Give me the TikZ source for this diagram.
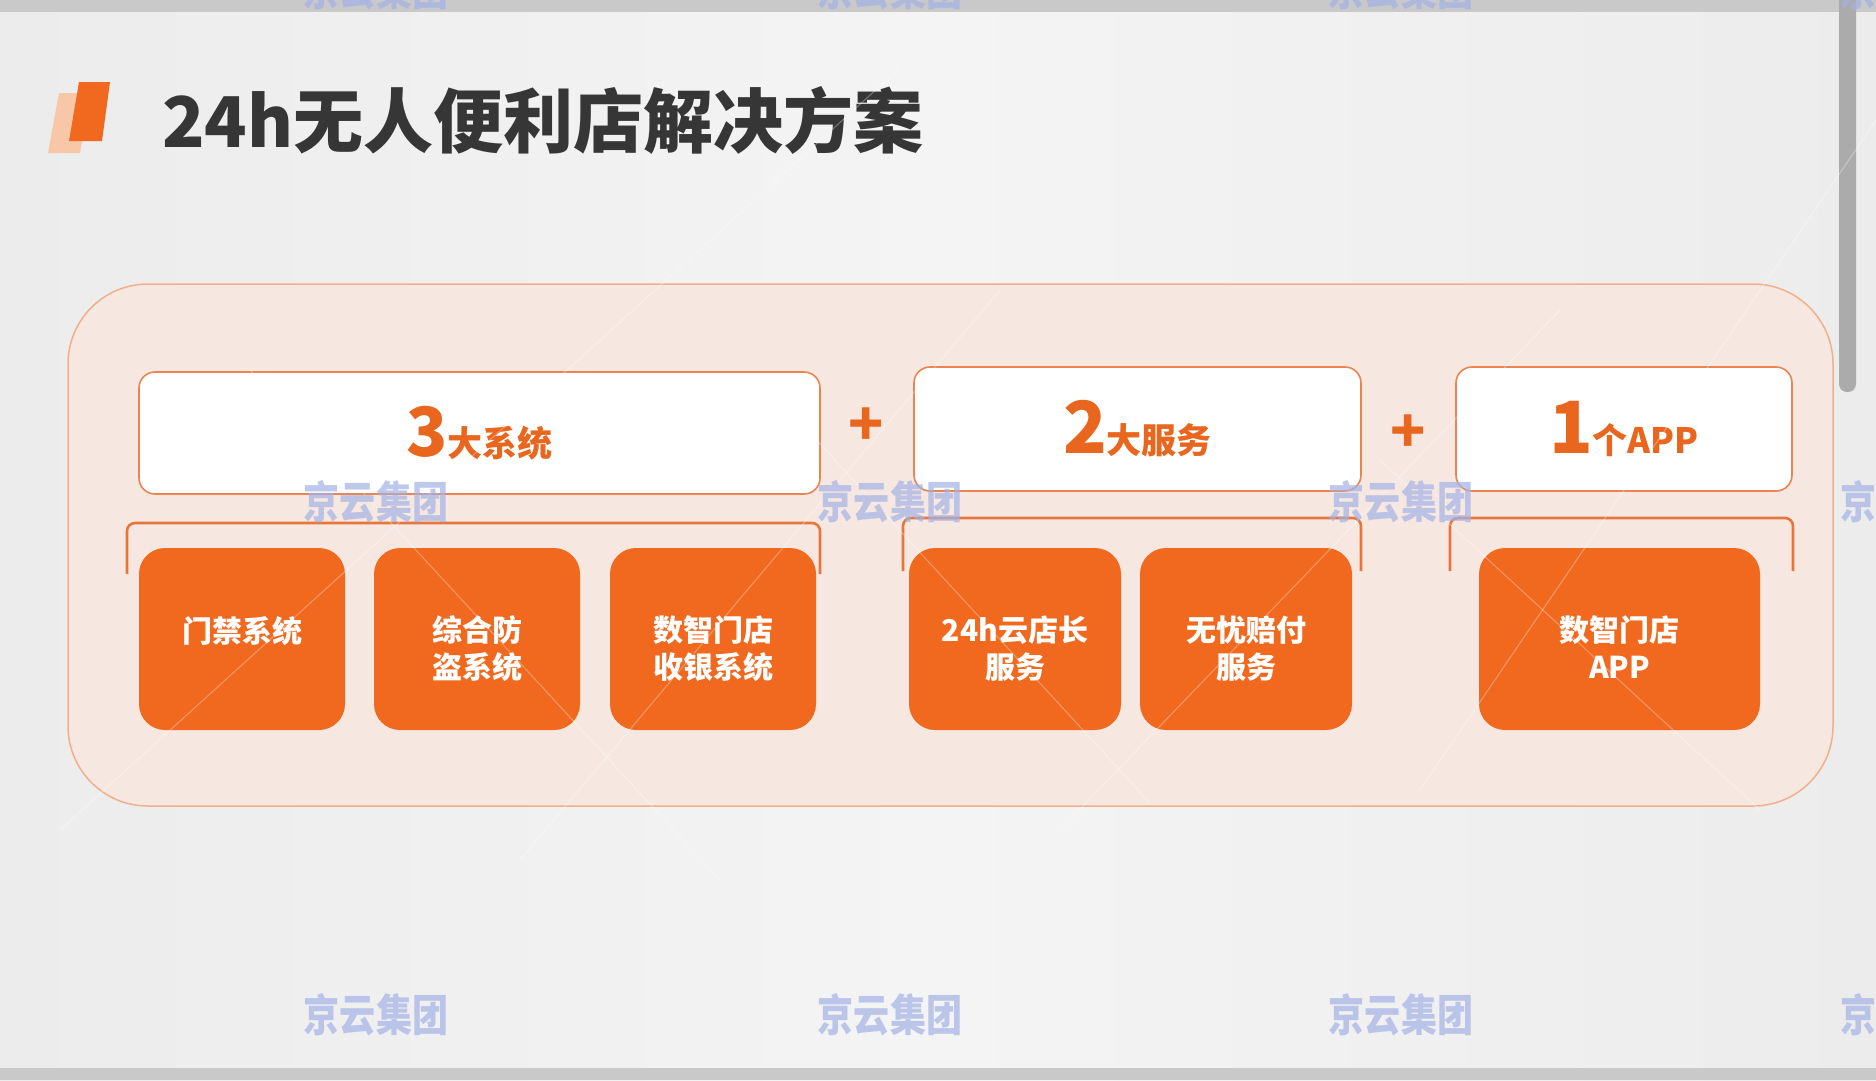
\documentclass[tikz,border=0pt]{standalone}
\usepackage{fontspec}
\setmainfont{Noto Sans CJK SC}
\usetikzlibrary{calc}
\definecolor{bgc}{HTML}{ECECEC}
\definecolor{bgmid}{HTML}{F4F4F4}
\definecolor{org}{HTML}{F1691E}
\definecolor{orgline}{HTML}{EC8450}
\definecolor{brk}{HTML}{E8763A}
\definecolor{peach}{HTML}{F6E8E1}
\definecolor{peachline}{HTML}{F2B08A}
\definecolor{wmc}{HTML}{A3B2E6}
\definecolor{titlec}{HTML}{363636}
\definecolor{shadowc}{HTML}{F8C7A8}
\definecolor{barc}{HTML}{C9C9C9}
\definecolor{scrollc}{HTML}{ABABAB}
\definecolor{numc}{HTML}{E9661F}
\begin{document}
\begin{tikzpicture}[x=1pt,y=-1pt,
  hdr/.style={draw=orgline, line width=1.6pt, fill=white, rounded corners=16pt, inner sep=0pt},
  obox/.style={fill=org, rounded corners=26pt, inner sep=0pt, minimum height=182pt},
  otext/.style={text=white, font=\bfseries\fontsize{30}{37}\selectfont, align=center, inner sep=0pt, anchor=north},
  bracket/.style={draw=brk, line width=2.6pt, rounded corners=8pt},
  plussign/.style={text=numc, font=\bfseries\fontsize{58}{58}\selectfont, inner sep=0pt},
  wmark/.style={text=wmc, opacity=0.7, font=\bfseries\fontsize{44}{44}\selectfont, inner sep=0pt},
  deco/.style={draw=white, opacity=0.3, line width=1.1pt}
]
\useasboundingbox (0,0) rectangle (1876,1080);
\begin{scope}
\clip (0,0) rectangle (1876,1080);
% background
\shade[left color=bgc, right color=bgc, middle color=bgmid] (0,0) rectangle (1876,1080);
\fill[barc] (0,0) rectangle (1876,12);
\fill[barc] (0,1068) rectangle (1876,1080);
\fill[scrollc, rounded corners=8pt] (1839,-20) rectangle (1856,392);

% logo
\fill[shadowc] (59,93) -- (91,93) -- (80,153) -- (48,153) -- cycle;
\fill[org] (79,82) -- (110,82) -- (102,141) -- (69,141) -- cycle;
\node[anchor=west, inner sep=0pt, text=titlec, font=\bfseries\fontsize{70}{70}\selectfont] (title) at (162,120) {24h无人便利店解决方案};

% container
\draw[peachline, fill=peach, line width=1.5pt, rounded corners=80pt] (68,284) rectangle (1833,806);

% header boxes
\node[hdr, minimum width=681pt, minimum height=122pt] (h1) at (479.5,433)
  {\textcolor{numc}{\bfseries\fontsize{68}{68}\selectfont 3\fontsize{35}{35}\selectfont 大系统}};
\node[hdr, minimum width=447pt, minimum height=124pt] (h2) at (1137.5,429)
  {\textcolor{numc}{\bfseries\fontsize{72}{72}\selectfont 2\fontsize{35}{35}\selectfont 大服务}};
\node[hdr, minimum width=336pt, minimum height=124pt] (h3) at (1624,429)
  {\textcolor{numc}{\bfseries\fontsize{72}{72}\selectfont 1\fontsize{35}{35}\selectfont 个APP}};

% plus signs
\node[plussign] (p1) at (866,427) {+};
\node[plussign] (p2) at (1408,434) {+};

% brackets
\draw[bracket] (127,574) -- (127,523) -- (820,523) -- (820,574);
\draw[bracket] (903,571) -- (903,518) -- (1361,518) -- (1361,571);
\draw[bracket] (1450,571) -- (1450,518) -- (1793,518) -- (1793,571);

% orange boxes
\node[obox, minimum width=206pt] (b1) at (242,639) {};
\node[obox, minimum width=206pt] (b2) at (477,639) {};
\node[obox, minimum width=206pt] (b3) at (713,639) {};
\node[obox, minimum width=212pt] (b4) at (1015,639) {};
\node[obox, minimum width=212pt] (b5) at (1246,639) {};
\node[obox, minimum width=281pt] (b6) at (1619.5,639) {};

\node[otext] (t1) at ($(b1.north)+(0,68)$) {门禁系统};
\node[otext] (t2) at ($(b2.north)+(0,68)$) {综合防\\盗系统};
\node[otext] (t3) at ($(b3.north)+(0,68)$) {数智门店\\收银系统};
\node[otext] (t4) at ($(b4.north)+(0,68)$) {24h云店长\\服务};
\node[otext] (t5) at ($(b5.north)+(0,68)$) {无忧赔付\\服务};
\node[otext] (t6) at ($(b6.north)+(0,68)$) {数智门店\\APP};

% decorative diagonal lines
\draw[deco] (60,830) -- (900,68);
\draw[deco] (250,370) -- (720,880);
\draw[deco] (520,860) -- (1000,290);
\draw[deco] (780,400) -- (1150,803);
\draw[deco] (1060,830) -- (1560,310);
\draw[deco] (1380,460) -- (1760,810);
\draw[deco] (1420,790) -- (1876,120);

% watermarks
\foreach \wx in {376,890,1401,1913}{
  \foreach \wy in {-11,502,1015}{
    \node[wmark] at (\wx,\wy) {\scalebox{0.82}[1]{京云集团}};
  }
}
\end{scope}
\end{tikzpicture}
\end{document}
